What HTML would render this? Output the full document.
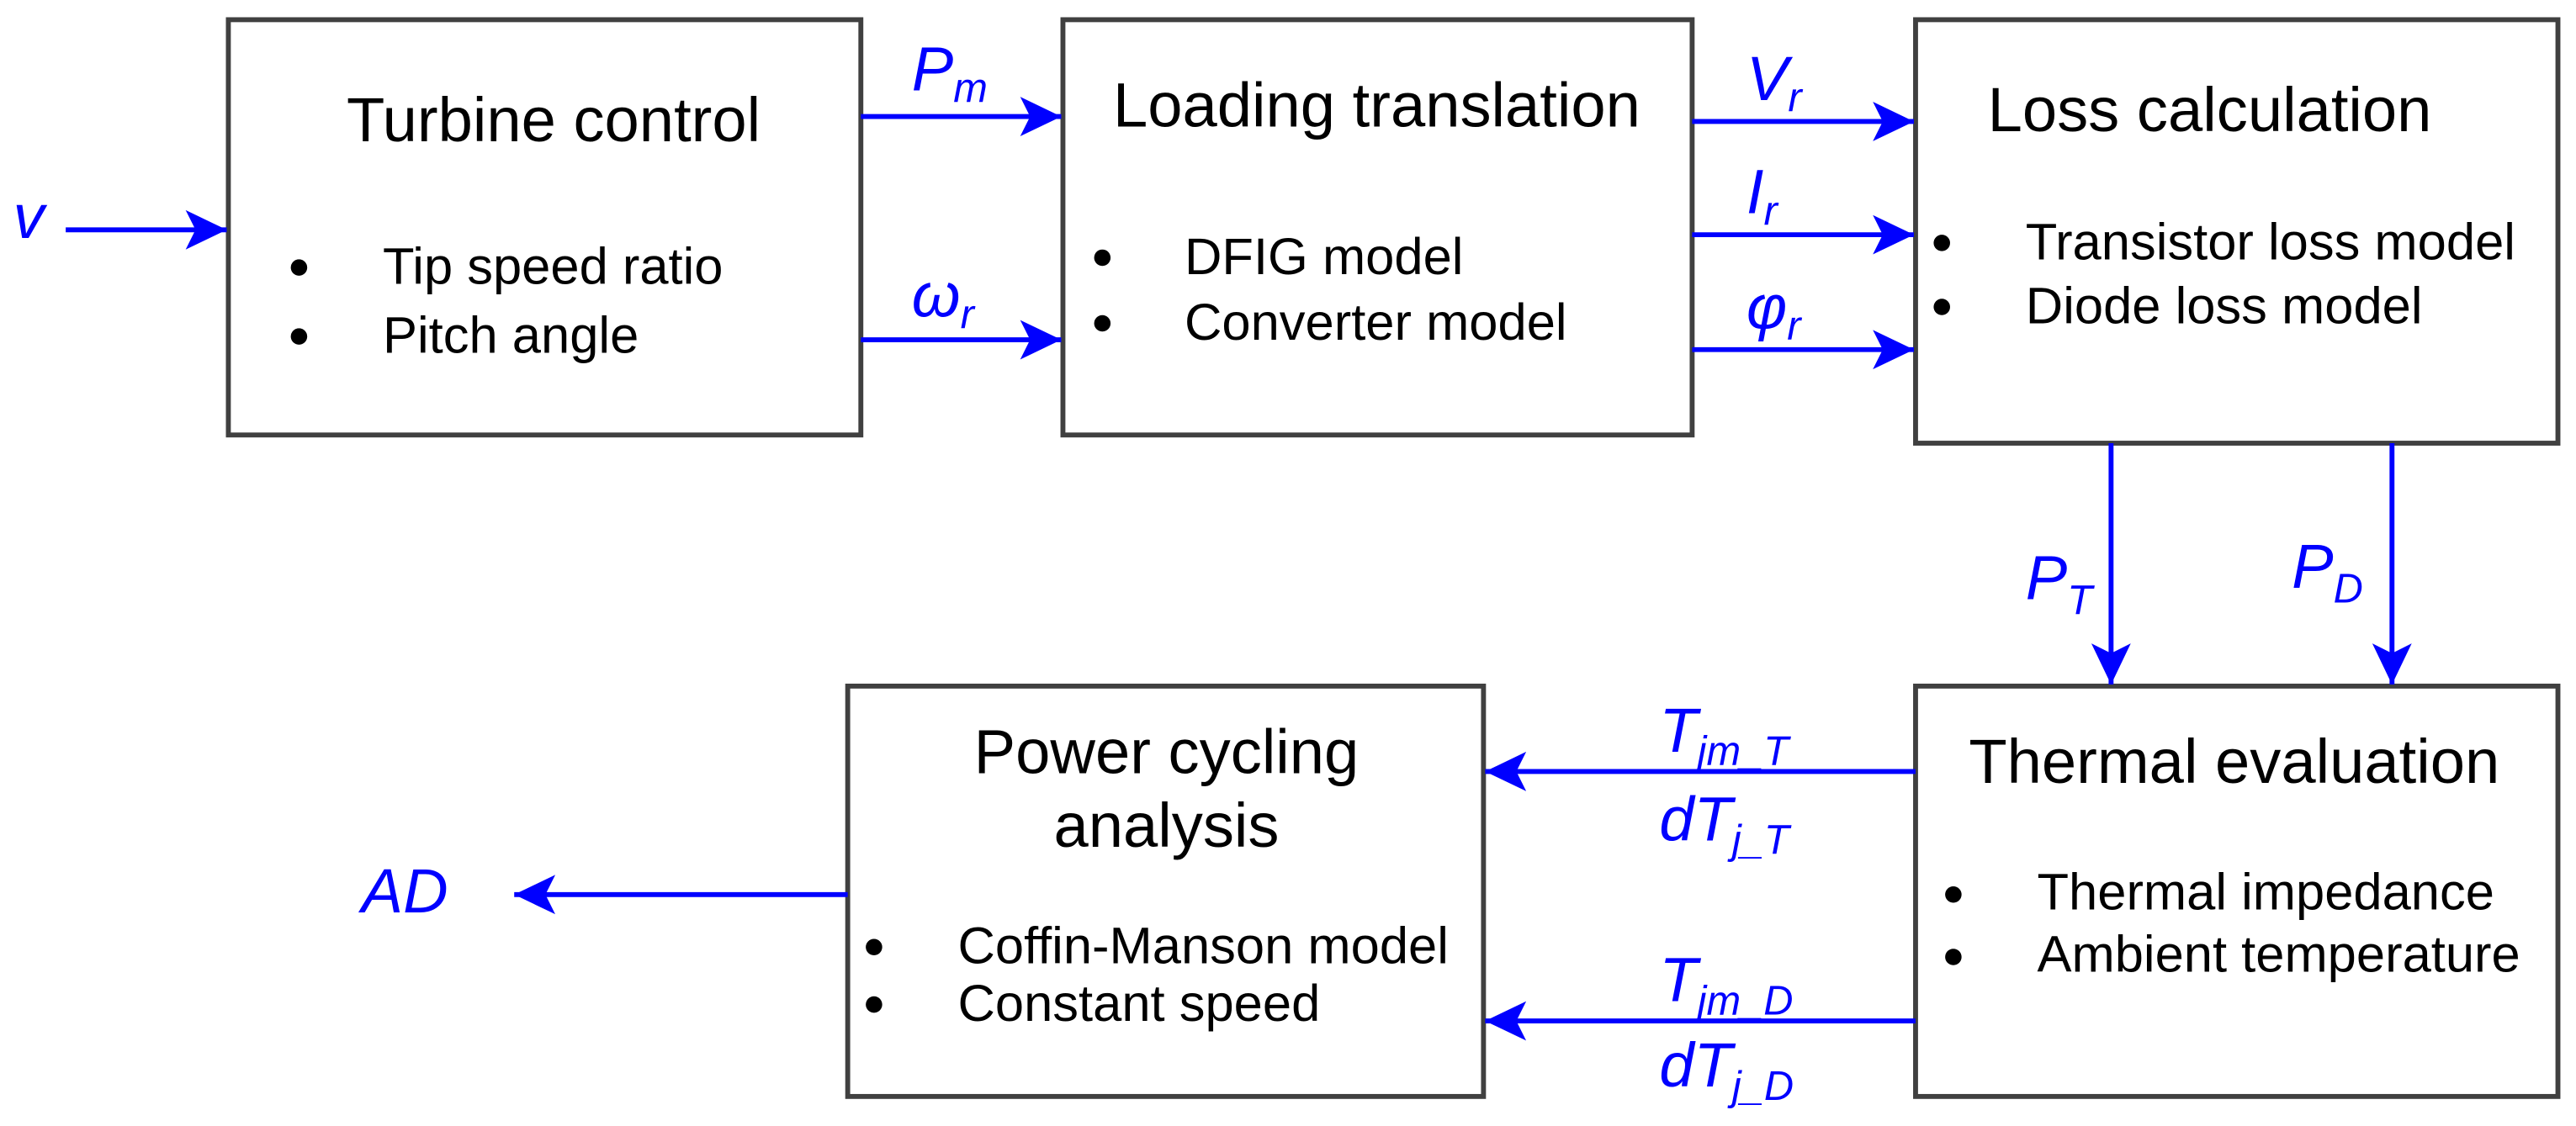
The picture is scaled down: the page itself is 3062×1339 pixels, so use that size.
<!DOCTYPE html>
<html><head><style>html,body{margin:0;padding:0;background:#fff}svg{display:block}</style></head>
<body>
<svg width="3062" height="1339" viewBox="0 0 1568 686" preserveAspectRatio="none" xmlns="http://www.w3.org/2000/svg" font-family="Liberation Sans, Arial, sans-serif">
<defs>
<marker id="a" markerWidth="28" markerHeight="26" refX="25" refY="13" orient="auto" markerUnits="userSpaceOnUse">
<path d="M0,1 L25,13 L0,25 L6,13 Z" fill="#0000ff"/>
</marker>
</defs>
<g fill="#fff" stroke="#404040" stroke-width="3">
<rect x="139" y="12" width="385" height="253"/>
<rect x="647" y="12" width="383" height="253"/>
<rect x="1166" y="12" width="391" height="258"/>
<rect x="1166" y="418" width="391" height="250"/>
<rect x="516" y="418" width="387" height="250"/>
</g>
<g stroke="#0000ff" stroke-width="3" marker-end="url(#a)">
<line x1="40" y1="140" x2="138" y2="140"/>
<line x1="524" y1="71" x2="646" y2="71"/>
<line x1="524" y1="207" x2="646" y2="207"/>
<line x1="1030" y1="74" x2="1165" y2="74"/>
<line x1="1030" y1="143" x2="1165" y2="143"/>
<line x1="1030" y1="213" x2="1165" y2="213"/>
<line x1="1285" y1="270" x2="1285" y2="417"/>
<line x1="1456" y1="270" x2="1456" y2="417"/>
<line x1="1166" y1="470" x2="904" y2="470"/>
<line x1="1166" y1="622" x2="904" y2="622"/>
<line x1="516" y1="545" x2="313" y2="545"/>
</g>
<g fill="#000" font-size="38" text-anchor="middle">
<text x="337" y="86">Turbine control</text>
<text x="838" y="77">Loading translation</text>
<text x="1345" y="80">Loss calculation</text>
<text x="1360" y="477">Thermal evaluation</text>
<text x="710" y="471">Power cycling</text>
<text x="710" y="516">analysis</text>
</g>
<g fill="#000" font-size="31.5">
<text x="233" y="173">Tip speed ratio</text>
<text x="233" y="215">Pitch angle</text>
<text x="721" y="167">DFIG model</text>
<text x="721" y="207">Converter model</text>
<text x="1233" y="158">Transistor loss model</text>
<text x="1233" y="197">Diode loss model</text>
<text x="1240" y="554">Thermal impedance</text>
<text x="1240" y="592">Ambient temperature</text>
<text x="583" y="587">Coffin-Manson model</text>
<text x="583" y="622">Constant speed</text>
</g>
<g fill="#000">
<circle cx="182" cy="163" r="5"/><circle cx="182" cy="205" r="5"/>
<circle cx="671" cy="157" r="5"/><circle cx="671" cy="197" r="5"/>
<circle cx="1182" cy="148" r="5"/><circle cx="1182" cy="187" r="5"/>
<circle cx="1189" cy="545" r="5"/><circle cx="1189" cy="583" r="5"/>
<circle cx="532" cy="577" r="5"/><circle cx="532" cy="612" r="5"/>
</g>
<g fill="#0000ff" font-style="italic" font-size="38">
<text x="8" y="145">v</text>
<text x="555" y="55">P<tspan font-size="25" dy="7">m</tspan></text>
<text x="555" y="193">ω<tspan font-size="25" dy="7">r</tspan></text>
<text x="1063" y="61">V<tspan font-size="25" dy="7">r</tspan></text>
<text x="1063" y="130">I<tspan font-size="25" dy="7">r</tspan></text>
<text x="1063" y="200">φ<tspan font-size="25" dy="7">r</tspan></text>
<text x="1233" y="365">P<tspan font-size="25" dy="9">T</tspan></text>
<text x="1395" y="358">P<tspan font-size="25" dy="9">D</tspan></text>
<text x="1010" y="458">T<tspan font-size="25" dy="8">jm_T</tspan></text>
<text x="1010" y="512">dT<tspan font-size="25" dy="8">j_T</tspan></text>
<text x="1010" y="610">T<tspan font-size="25" dy="8">jm_D</tspan></text>
<text x="1010" y="662">dT<tspan font-size="25" dy="8">j_D</tspan></text>
<text x="220" y="556">AD</text>
</g>
</svg>
</body></html>
